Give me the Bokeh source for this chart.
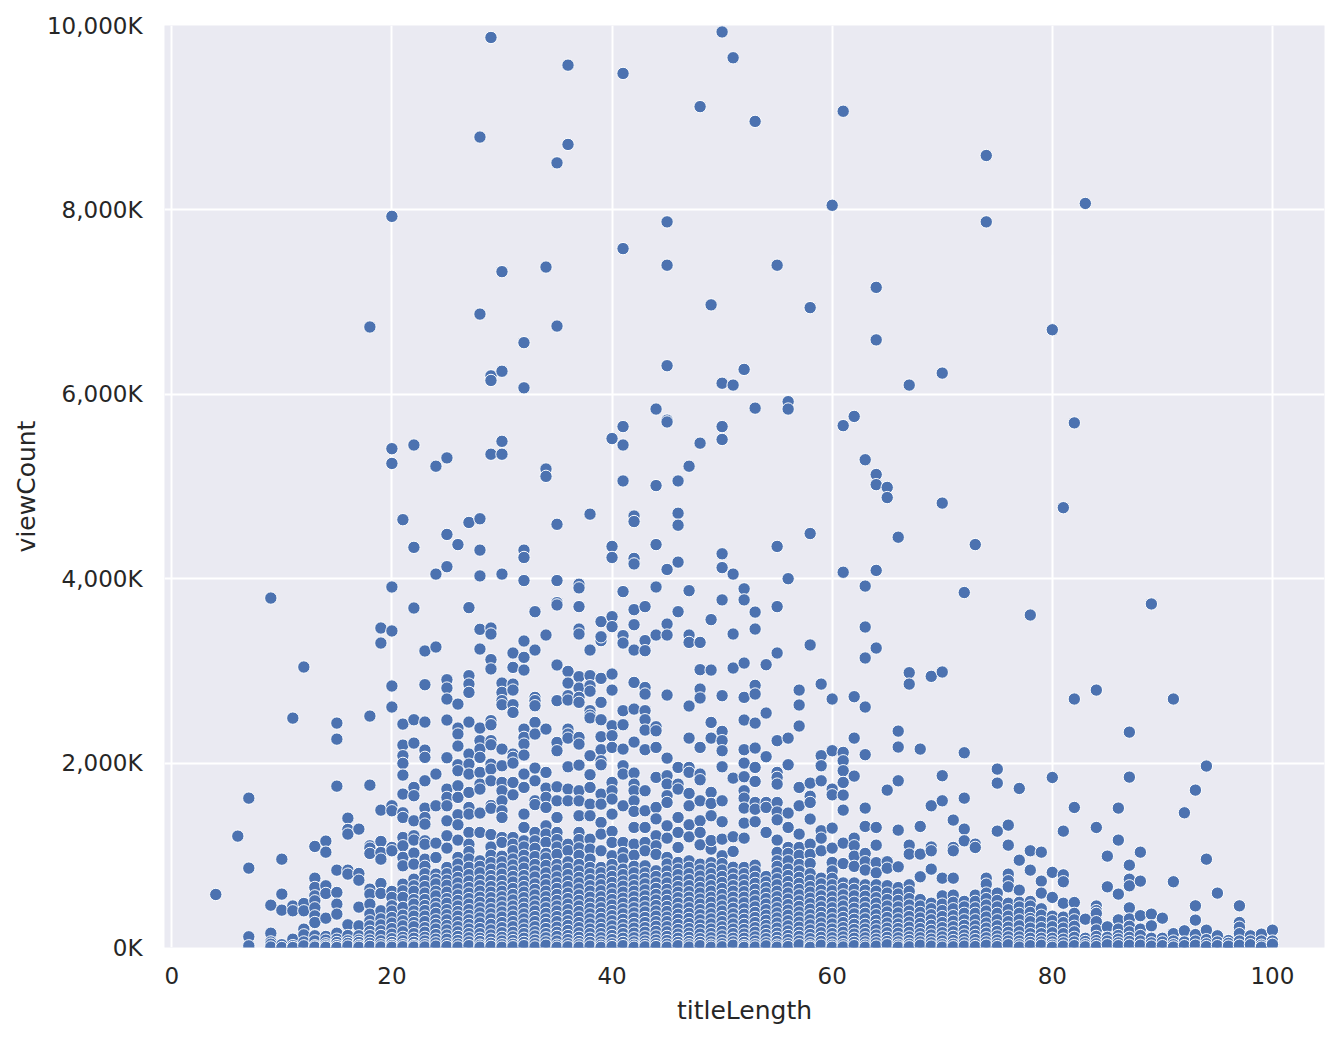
from bokeh.plotting import figure
from bokeh.models import FixedTicker, ColumnDataSource
from bokeh.embed import file_html
from bokeh.resources import INLINE

# viewCount in thousands, one list per titleLength
L4 = [575]
L6 = [1208]
L7 = [1620, 861, 116, 18]
L9 = [3790, 459, 155, 60, 36, 5]
L10 = [958, 579, 405, 30, 0]
L11 = [2488, 450, 398, 90, 20, 0]
L12 = [3042, 477, 398, 199, 137, 60, 18]
L13 = [1096, 752, 651, 560, 506, 430, 343, 271, 127, 72, 18, 4]
L14 = [1154, 1034, 669, 586, 318, 120, 80, 40, 18, 2]
L15 = [2434, 2260, 1750, 839, 597, 470, 362, 155, 90, 54, 20, 0]
L16 = [1403, 1280, 1230, 839, 796, 246, 130, 72, 44, 15]
L17 = [1284, 803, 730, 438, 235, 127, 80, 54, 20, 3]
L18 = [6730, 2510, 1761, 1103, 1078, 1020, 633, 579, 470, 362, 289, 235, 175, 128, 80, 45, 12]
L19 = [3465, 3302, 1490, 1150, 1030, 958, 694, 586, 398, 310, 245, 181, 130, 72, 30, 6]
L20 = [7930, 5410, 5250, 3910, 3433, 2836, 2608, 1537, 1483, 1085, 1049, 608, 543, 452, 395, 325, 265, 205, 145, 95, 54, 22, 3]
L21 = [4640, 2423, 2195, 2080, 1997, 1870, 1664, 1461, 1410, 1193, 1103, 977, 886, 687, 615, 543, 434, 350, 290, 235, 170, 110, 72, 30, 8]
L22 = [5450, 4340, 3682, 2470, 2217, 1736, 1646, 1374, 1212, 1165, 1024, 904, 741, 669, 610, 520, 470, 395, 340, 270, 225, 150, 100, 55, 20, 5]
L23 = [3216, 2850, 2445, 2141, 2062, 1808, 1512, 1410, 1338, 1157, 1120, 958, 880, 800, 725, 660, 590, 520, 455, 400, 340, 280, 215, 165, 110, 70, 30, 6]
L24 = [5220, 4050, 3259, 1881, 1537, 1132, 976, 796, 740, 690, 610, 560, 480, 430, 370, 300, 250, 200, 140, 90, 50, 15]
L25 = [5310, 4480, 4130, 2904, 2814, 2695, 2467, 2058, 1718, 1628, 1537, 1374, 1212, 1078, 868, 800, 730, 675, 600, 530, 480, 410, 355, 300, 240, 190, 135, 90, 40, 10]
L26 = [4370, 2640, 2380, 2315, 2185, 1982, 1917, 1754, 1628, 1440, 1331, 1165, 977, 905, 830, 760, 700, 635, 570, 510, 450, 390, 340, 280, 225, 170, 120, 75, 35, 5]
L27 = [4610, 3686, 2948, 2857, 2767, 2445, 2098, 1989, 1881, 1682, 1519, 1447, 1248, 1120, 1040, 960, 870, 790, 720, 650, 590, 530, 470, 410, 350, 300, 250, 200, 150, 105, 60, 20]
L28 = [8790, 6870, 4650, 4310, 4030, 3451, 3237, 2380, 2243, 2152, 2062, 1899, 1772, 1718, 1458, 1248, 940, 880, 810, 730, 670, 610, 545, 490, 430, 375, 320, 265, 205, 150, 100, 65, 25, 4]
L29 = [9870, 6200, 6150, 5350, 3465, 3400, 3122, 3021, 2460, 2416, 2243, 2199, 1989, 1935, 1808, 1540, 1510, 1225, 1090, 1000, 920, 850, 780, 725, 660, 600, 540, 480, 420, 365, 310, 250, 190, 135, 90, 45, 12]
L30 = [7330, 6250, 5490, 5350, 4050, 2868, 2767, 2677, 2633, 2152, 1971, 1790, 1700, 1591, 1483, 1410, 1193, 1140, 990, 930, 860, 795, 725, 660, 610, 550, 495, 440, 385, 330, 270, 215, 160, 110, 70, 30, 3]
L31 = [3194, 3038, 2857, 2792, 2633, 2550, 2098, 2062, 2000, 1790, 1656, 1193, 1120, 1050, 960, 895, 830, 770, 710, 640, 575, 515, 450, 395, 340, 280, 225, 165, 115, 75, 35, 8]
L32 = [6560, 6070, 4310, 4230, 3980, 3324, 3147, 3009, 2369, 2279, 2206, 2087, 1881, 1736, 1447, 1302, 1157, 1090, 1000, 930, 860, 780, 720, 660, 600, 540, 480, 425, 365, 310, 255, 200, 150, 100, 55, 20]
L33 = [3642, 3226, 2713, 2677, 2622, 2441, 2315, 1946, 1808, 1591, 1550, 1248, 1157, 1075, 985, 900, 830, 765, 690, 630, 570, 505, 450, 395, 335, 280, 225, 170, 125, 80, 40, 6]
L34 = [7380, 5190, 5110, 3389, 2369, 1899, 1729, 1628, 1519, 1320, 1230, 1140, 1020, 970, 890, 810, 740, 680, 610, 550, 490, 430, 370, 310, 260, 205, 150, 105, 60, 25]
L35 = [8510, 6740, 4590, 3980, 3740, 3715, 3064, 2677, 2224, 2134, 1743, 1591, 1410, 1248, 1170, 1090, 1010, 900, 840, 765, 700, 640, 575, 510, 450, 395, 335, 280, 220, 165, 120, 70, 25, 3]
L36 = [9570, 8710, 2995, 2868, 2731, 2684, 2369, 2315, 2271, 1960, 1718, 1591, 1120, 1050, 930, 860, 790, 720, 660, 590, 530, 470, 410, 350, 290, 240, 185, 130, 85, 40, 8]
L37 = [3940, 3900, 3697, 3454, 3400, 2937, 2814, 2713, 2659, 2279, 2206, 1978, 1700, 1590, 1429, 1248, 1170, 1080, 1000, 900, 830, 760, 700, 635, 570, 510, 450, 390, 330, 270, 215, 160, 110, 65, 30, 4]
L38 = [4700, 3226, 2948, 2839, 2780, 2568, 2520, 2490, 2080, 1874, 1736, 1555, 1429, 1175, 1067, 958, 868, 800, 735, 670, 610, 545, 480, 425, 365, 310, 255, 200, 150, 100, 55, 15]
L39 = [3534, 3328, 3370, 2919, 2659, 2470, 2286, 2145, 2025, 1982, 1664, 1555, 1356, 1230, 1049, 868, 810, 740, 680, 615, 550, 490, 430, 370, 315, 255, 205, 150, 105, 60, 25, 2]
L40 = [5520, 4350, 4230, 3588, 3480, 2966, 2792, 2405, 2297, 2170, 1790, 1700, 1610, 1447, 1259, 1139, 995, 900, 830, 770, 705, 640, 580, 520, 460, 400, 345, 290, 235, 180, 130, 85, 40, 10]
L41 = [9480, 7580, 5650, 5450, 5060, 3860, 3382, 3302, 2568, 2416, 2152, 1971, 1881, 1537, 1139, 1030, 960, 850, 790, 720, 665, 600, 535, 480, 420, 365, 305, 250, 200, 150, 100, 55, 20]
L42 = [4680, 4620, 4220, 4160, 3664, 3501, 3226, 2875, 2586, 2228, 1892, 1772, 1700, 1590, 1476, 1302, 1121, 1000, 880, 810, 735, 670, 610, 550, 490, 430, 375, 320, 260, 210, 155, 105, 60, 25, 3]
L43 = [3697, 3328, 3219, 2820, 2749, 2568, 2470, 2358, 2145, 1700, 1483, 1302, 1139, 1049, 886, 810, 750, 690, 625, 560, 500, 440, 385, 325, 270, 215, 165, 115, 70, 35, 8]
L44 = [5840, 5010, 4370, 3910, 3389, 2394, 2350, 2170, 1845, 1519, 1395, 1212, 1103, 1010, 832, 770, 700, 640, 575, 515, 455, 395, 340, 280, 230, 175, 125, 80, 40, 10]
L45 = [7870, 7400, 6310, 5720, 5700, 4100, 3508, 3389, 2738, 2054, 1863, 1772, 1646, 1573, 1320, 1186, 977, 905, 830, 760, 700, 630, 570, 510, 445, 390, 330, 280, 225, 170, 120, 75, 35, 4]
L46 = [5060, 4710, 4580, 4180, 3642, 1953, 1772, 1718, 1410, 1248, 1085, 922, 850, 790, 720, 660, 600, 540, 480, 420, 360, 305, 250, 195, 145, 100, 55, 20]
L47 = [5220, 3870, 3389, 3309, 2619, 2271, 1953, 1900, 1671, 1537, 1331, 1200, 940, 870, 800, 735, 670, 605, 545, 490, 430, 370, 315, 260, 205, 155, 110, 65, 30, 5]
L48 = [9120, 5470, 3309, 3013, 2803, 2706, 2170, 1881, 1819, 1591, 1374, 1248, 1114, 904, 840, 775, 710, 650, 590, 525, 470, 410, 355, 300, 245, 195, 145, 95, 55, 20]
L49 = [6970, 3556, 3009, 2441, 2271, 1682, 1562, 1429, 1067, 1160, 920, 860, 800, 735, 670, 610, 545, 490, 425, 365, 310, 255, 200, 150, 105, 60, 25, 3]
L50 = [9930, 6120, 5650, 5510, 4270, 4120, 3770, 2731, 2344, 2243, 2134, 1960, 1591, 1364, 1175, 995, 910, 840, 770, 705, 640, 575, 515, 450, 395, 335, 280, 225, 175, 125, 80, 40, 8]
L51 = [9650, 6100, 4050, 3400, 3031, 1837, 1201, 1042, 870, 800, 740, 670, 610, 545, 485, 425, 365, 310, 255, 200, 150, 100, 60, 25]
L52 = [6270, 3890, 3770, 3085, 2713, 2467, 2145, 2000, 1852, 1700, 1620, 1512, 1349, 1186, 868, 800, 735, 670, 605, 545, 485, 420, 360, 305, 250, 195, 145, 100, 55, 20, 2]
L53 = [8960, 5850, 3638, 3454, 2843, 2749, 2434, 2163, 1953, 1801, 1573, 1500, 1364, 893, 830, 760, 695, 630, 565, 505, 440, 380, 325, 270, 215, 165, 115, 70, 30, 5]
L54 = [3067, 2543, 2069, 1573, 1519, 1248, 770, 710, 650, 590, 530, 470, 410, 350, 295, 240, 190, 140, 95, 50, 18]
L55 = [7400, 4350, 3697, 3194, 2243, 1899, 1845, 1772, 1573, 1470, 1385, 1165, 1031, 940, 880, 810, 745, 680, 610, 550, 490, 430, 375, 320, 265, 210, 155, 110, 65, 25, 4]
L56 = [5920, 5840, 4000, 2271, 1982, 1458, 1302, 1085, 1020, 940, 850, 780, 715, 650, 590, 525, 465, 405, 350, 290, 235, 180, 130, 85, 40, 10]
L57 = [2792, 2630, 2402, 1736, 1537, 1230, 1085, 1000, 900, 830, 760, 695, 630, 570, 505, 445, 385, 330, 275, 220, 165, 120, 70, 30]
L58 = [6940, 4490, 3281, 1783, 1640, 1573, 1393, 1121, 1010, 910, 800, 730, 660, 600, 535, 475, 415, 355, 300, 245, 190, 140, 95, 50, 18, 2]
L59 = [2857, 2080, 1971, 1808, 1266, 1186, 1049, 752, 690, 620, 560, 500, 440, 380, 325, 265, 210, 160, 110, 65, 25]
L60 = [8050, 2695, 2134, 1718, 1656, 1295, 1078, 922, 830, 750, 680, 615, 550, 490, 430, 370, 310, 255, 200, 150, 105, 60, 25, 3]
L61 = [9070, 5660, 4070, 2116, 2025, 1917, 1790, 1653, 1490, 1132, 910, 700, 640, 570, 505, 450, 385, 325, 270, 215, 165, 115, 70, 30, 6]
L62 = [5760, 2720, 2271, 1859, 1186, 1103, 990, 880, 700, 630, 560, 490, 425, 365, 305, 250, 195, 145, 100, 55, 20]
L63 = [5290, 3920, 3476, 3140, 2608, 2091, 1512, 1313, 1020, 930, 840, 680, 620, 555, 490, 430, 370, 310, 250, 200, 150, 105, 60, 25, 3]
L64 = [7160, 6590, 5130, 5020, 4090, 3248, 1302, 1110, 920, 810, 680, 610, 540, 480, 415, 355, 295, 240, 190, 135, 90, 50, 15]
L65 = [4990, 4880, 1707, 930, 860, 670, 590, 520, 450, 385, 325, 265, 210, 160, 110, 65, 30]
L66 = [4450, 2347, 2174, 1808, 1273, 875, 650, 580, 510, 440, 375, 310, 255, 205, 155, 105, 60, 25, 4]
L67 = [6100, 2980, 2857, 1110, 1013, 680, 610, 530, 460, 395, 335, 275, 220, 165, 115, 75, 35, 8]
L68 = [2152, 1313, 1013, 767, 520, 450, 380, 320, 260, 205, 150, 105, 60, 25]
L69 = [2941, 1537, 1090, 1049, 850, 480, 420, 355, 300, 240, 185, 135, 90, 50, 15]
L70 = [6230, 4820, 2988, 1863, 1591, 752, 560, 470, 400, 335, 270, 215, 160, 115, 70, 30, 4]
L71 = [1382, 1085, 1049, 752, 568, 490, 420, 345, 285, 225, 170, 120, 75, 35, 8]
L72 = [3850, 2112, 1620, 1284, 1157, 500, 440, 370, 300, 240, 185, 135, 90, 50, 15]
L73 = [4370, 1121, 1085, 568, 500, 430, 370, 300, 235, 180, 130, 85, 40, 10]
L74 = [8590, 7870, 752, 687, 590, 530, 460, 395, 330, 265, 210, 155, 105, 60, 25]
L75 = [1935, 1783, 1262, 590, 510, 440, 370, 300, 235, 175, 125, 80, 40, 10]
L76 = [1327, 1110, 796, 724, 658, 480, 410, 340, 280, 220, 165, 115, 70, 30]
L77 = [1725, 947, 622, 490, 440, 370, 300, 235, 170, 115, 70, 30, 5]
L78 = [3606, 1049, 839, 500, 450, 380, 315, 280, 210, 150, 100, 55, 20]
L79 = [1034, 720, 590, 420, 350, 280, 215, 150, 100, 60, 25]
L80 = [6700, 1844, 815, 543, 340, 290, 225, 160, 100, 60, 25, 3]
L81 = [4770, 1262, 788, 713, 480, 330, 270, 210, 150, 90, 50, 15]
L82 = [5690, 2695, 1519, 488, 370, 300, 230, 170, 110, 60, 20]
L83 = [8070, 307, 100, 65, 30, 8]
L84 = [2792, 1302, 450, 400, 370, 280, 190, 120, 75, 40, 10]
L85 = [991, 658, 224, 110, 70, 30]
L86 = [1512, 1165, 579, 300, 200, 130, 90, 50, 20]
L87 = [2336, 1848, 893, 741, 669, 430, 310, 230, 170, 110, 65, 25]
L88 = [1034, 720, 345, 200, 130, 70, 25]
L89 = [3726, 362, 235, 100, 50, 15]
L90 = [318, 100, 60, 20]
L91 = [2695, 713, 150, 70, 30, 5]
L92 = [1461, 181, 60, 20]
L93 = [1707, 452, 297, 140, 70, 25]
L94 = [1968, 958, 188, 85, 40, 10]
L95 = [590, 127, 60, 20]
L96 = [75, 45, 15]
L97 = [452, 271, 220, 150, 70, 25]
L98 = [127, 70, 30]
L99 = [145, 70, 25, 4]
L100 = [188, 70, 35]

title_lengths = [4, 6, 7, 9, 10, 11, 12, 13, 14, 15, 16, 17, 18, 19, 20, 21, 22, 23, 24, 25, 26, 27, 28, 29, 30,
                 31, 32, 33, 34, 35, 36, 37, 38, 39, 40, 41, 42, 43, 44, 45, 46, 47, 48, 49, 50, 51, 52, 53, 54, 55,
                 56, 57, 58, 59, 60, 61, 62, 63, 64, 65, 66, 67, 68, 69, 70, 71, 72, 73, 74, 75, 76, 77, 78, 79, 80,
                 81, 82, 83, 84, 85, 86, 87, 88, 89, 90, 91, 92, 93, 94, 95, 96, 97, 98, 99, 100]
view_lists = [L4, L6, L7, L9, L10, L11, L12, L13, L14, L15, L16, L17, L18, L19, L20, L21, L22, L23, L24, L25, L26, L27, L28, L29, L30,
              L31, L32, L33, L34, L35, L36, L37, L38, L39, L40, L41, L42, L43, L44, L45, L46, L47, L48, L49, L50, L51, L52, L53, L54, L55,
              L56, L57, L58, L59, L60, L61, L62, L63, L64, L65, L66, L67, L68, L69, L70, L71, L72, L73, L74, L75, L76, L77, L78, L79, L80,
              L81, L82, L83, L84, L85, L86, L87, L88, L89, L90, L91, L92, L93, L94, L95, L96, L97, L98, L99, L100]

x_ticks = [0, 20, 40, 60, 80, 100]
y_ticks = [0, 2000, 4000, 6000, 8000, 10000]
y_tick_labels = ["0K", "2,000K", "4,000K", "6,000K", "8,000K", "10,000K"]

xs, ys = [], []
for t, vals in zip(title_lengths, view_lists):
    for v in vals:
        xs.append(t)
        ys.append(v)
source = ColumnDataSource(dict(titleLength=xs, viewCount=ys))

p = figure(width=1331, height=1030, output_backend="svg", toolbar_location=None,
           x_range=(-0.66, 104.73), y_range=(0, 10000),
           min_border_left=164, min_border_right=7, min_border_top=25, min_border_bottom=83,
           background_fill_color="#EAEAF2", border_fill_color="white")
p.outline_line_color = None
p.scatter("titleLength", "viewCount", source=source, size=12.4, fill_color="#4C72B0",
          line_color="white", line_width=1)

for ax in (p.xaxis[0], p.yaxis[0]):
    ax.axis_line_color = None
    ax.major_tick_line_color = None
    ax.minor_tick_line_color = None
    ax.major_label_text_font = "DejaVu Sans"
    ax.major_label_text_font_size = "23px"
    ax.major_label_text_color = "#262626"
    ax.axis_label_text_font = "DejaVu Sans"
    ax.axis_label_text_font_size = "25px"
    ax.axis_label_text_font_style = "normal"
    ax.axis_label_text_color = "#262626"

p.xaxis.ticker = FixedTicker(ticks=x_ticks)
p.yaxis.ticker = FixedTicker(ticks=y_ticks)
p.yaxis.major_label_overrides = dict(zip(y_ticks, y_tick_labels))
p.xaxis.axis_label = "titleLength"
p.yaxis.axis_label = "viewCount"
p.xaxis.major_label_standoff = 13
p.yaxis.major_label_standoff = 16
p.xaxis.axis_label_standoff = 9
p.yaxis.axis_label_standoff = 3

p.xgrid.grid_line_color = "white"
p.ygrid.grid_line_color = "white"
p.xgrid.grid_line_width = 2
p.ygrid.grid_line_width = 2

open("out.html", "w").write(file_html(p, INLINE))
